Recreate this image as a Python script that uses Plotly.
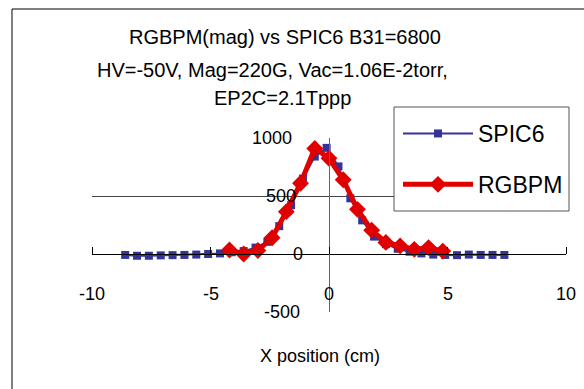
import plotly.graph_objects as go

# ---- data ----
spic6_x = [-8.6, -8.1, -7.6, -7.1, -6.6, -6.1, -5.6, -5.1, -4.6, -4.1, -3.6, -3.1,
           -2.6, -2.1, -1.6, -1.1, -0.6, -0.1, 0.4, 0.9, 1.4, 1.9, 2.4, 2.9,
           3.4, 3.9, 4.4, 4.9, 5.4, 5.9, 6.4, 6.9, 7.4]
spic6_y = [-8, -15, -15, -12, -10, -8, -5, 0, 5, 15, 25, 55,
           105, 240, 420, 650, 840, 915, 755, 480, 290, 150, 85, 45,
           20, 5, -5, -8, -10, -5, -8, -8, -8]

rgbpm_x = [-4.2, -3.6, -3.0, -2.4, -1.8, -1.2, -0.6, 0.0, 0.6, 1.2, 1.8, 2.4,
           3.0, 3.6, 4.2, 4.8]
rgbpm_y = [35, 0, 30, 140, 365, 610, 910, 825, 640, 385, 205, 100,
           70, 40, 55, 25]

x_ticks = [-10, -5, 0, 5, 10]
x_tick_labels = ["-10", "-5", "0", "5", "10"]
y_ticks = [-500, 0, 500, 1000]
y_tick_labels = ["-500", "0", "500", "1000"]

title_lines = ["RGBPM(mag) vs SPIC6 B31=6800",
               "HV=-50V, Mag=220G, Vac=1.06E-2torr,",
               "EP2C=2.1Tppp"]
x_title = "X position (cm)"

FONT = "Arial, Liberation Sans, sans-serif"
W, H = 584, 389
L, R, T, B = 92, 18, 138, 77
pw, ph = W - L - R, H - T - B

def px_x(p):
    return (p - L) / pw

def px_y(p):
    return (H - B - p) / ph

fig = go.Figure()
fig.add_trace(go.Scatter(
    x=spic6_x, y=spic6_y, name="SPIC6", mode="lines+markers",
    line=dict(color="#333399", width=2),
    marker=dict(symbol="square", size=8, color="#333399"),
    legendgroup="a"))
fig.add_trace(go.Scatter(
    x=rgbpm_x, y=rgbpm_y, name="RGBPM", mode="lines+markers",
    line=dict(color="#E00000", width=5),
    marker=dict(symbol="diamond", size=13, color="#E00000"),
    legendgroup="b"))

fig.update_layout(
    width=W, height=H,
    margin=dict(l=L, r=R, t=T, b=B, pad=0),
    paper_bgcolor="white", plot_bgcolor="white",
    font=dict(family=FONT, size=18, color="black"),
    showlegend=True,
    legend=dict(x=px_x(398), y=px_y(112), xanchor="left", yanchor="top",
                bgcolor="rgba(0,0,0,0)", borderwidth=0,
                font=dict(size=23, family=FONT), tracegroupgap=18,
                itemwidth=70),
    # x axis crosses at y = 0; ticks point upward (axis "side" top, outside ticks)
    xaxis=dict(range=[-10, 10], tickvals=x_ticks, showticklabels=False,
               anchor="free", position=1/3, side="top", showgrid=False, zeroline=False,
               showline=True, linecolor="black", linewidth=1,
               ticks="outside", ticklen=7, tickcolor="black", tickwidth=1),
    yaxis=dict(range=[-500, 1000], tickvals=y_ticks, showticklabels=False,
               anchor="free", position=0.5, showgrid=True, gridcolor="#444444",
               gridwidth=1, zeroline=False,
               showline=True, linecolor="#666666", linewidth=1, ticks=""),
)

# chart-area border (extends past right/bottom edges like the cropped original)
fig.add_shape(type="rect", xref="paper", yref="paper",
              x0=px_x(12), y0=px_y(9), x1=px_x(620), y1=px_y(420),
              line=dict(color="black", width=1), fillcolor="rgba(0,0,0,0)",
              layer="below")
# legend box
fig.add_shape(type="rect", xref="paper", yref="paper",
              x0=px_x(394), y0=px_y(107), x1=px_x(569), y1=px_y(211),
              line=dict(color="#555555", width=1), fillcolor="white",
              layer="above")

# x tick labels (below the y = 0 axis line)
for v, lab in zip(x_ticks, x_tick_labels):
    fig.add_annotation(text=lab, xref="x", yref="paper", x=v, y=px_y(294),
                       xanchor="center", yanchor="middle", showarrow=False,
                       font=dict(size=18, family=FONT))

# y tick labels placed left of the y axis (which crosses at x = 0)
y_label_right = [302, 305, 298, 294]
for v, lab, xr in zip(y_ticks, y_tick_labels, y_label_right):
    fig.add_annotation(text=lab, xref="paper", yref="y", x=px_x(xr), y=v,
                       xanchor="right", yanchor="middle", showarrow=False,
                       font=dict(size=18, family=FONT))

title_y = [37, 70, 98]
title_cx = [285, 272, 282]
for txt, yy, cx in zip(title_lines, title_y, title_cx):
    fig.add_annotation(text=txt, xref="paper", yref="paper", x=px_x(cx), y=px_y(yy),
                       xanchor="center", yanchor="middle", showarrow=False,
                       font=dict(size=20, family=FONT))

fig.add_annotation(text=x_title, xref="paper", yref="paper", x=px_x(320), y=px_y(356),
                   xanchor="center", yanchor="middle", showarrow=False,
                   font=dict(size=18, family=FONT))

fig.write_html("out.html", config={"displayModeBar": False},
               post_script="document.body.style.margin='0';document.body.style.overflow='hidden';")
